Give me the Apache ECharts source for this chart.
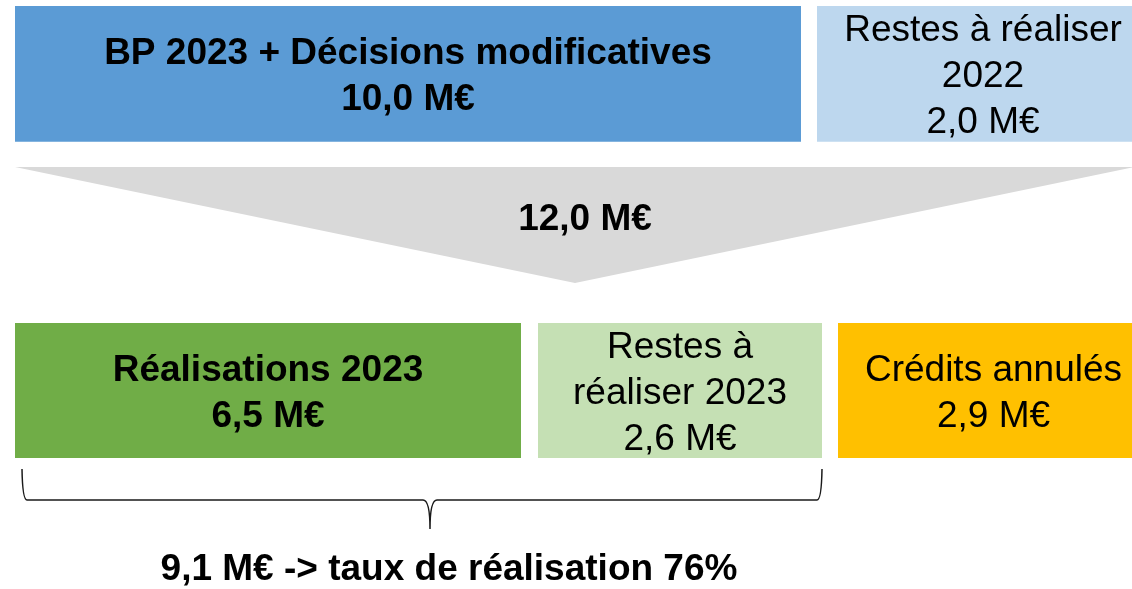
<!DOCTYPE html>
<html><head><meta charset="utf-8">
<script src="https://cdn.jsdelivr.net/npm/echarts@6/dist/echarts.min.js"></script>
<style>html,body{margin:0;padding:0;background:#fff}#c{width:1132px;height:589px}</style>
</head><body><div id="c"></div>
<script>
// ---- data ----
const topCategories = ['BP 2023 + Décisions modificatives', 'Restes à réaliser\n2022'];
const topValues = [10.0, 2.0];
const totalLabelValue = 12.0;
const bottomCategories = ['Réalisations 2023', 'Restes à\nréaliser 2023', 'Crédits annulés'];
const bottomValues = [6.5, 2.6, 2.9];
const engagedValue = 9.1;
const completionRate = 76;

// ---- layout (axis units) ----
const topBoxesX = [[15, 801], [817, 1149]];
const topRowY = [6, 141.7];
const bottomBoxesX = [[15, 521], [538, 822], [838, 1149]];
const bottomRowY = [323, 458];
const funnelPts = [[15, 167], [1135, 167], [575, 283]];
const funnelTextPos = [585, 220];
const braceGeom = { x0: 22, x1: 822, xm: 430, yTop: 469, yLine: 500, yTip: 529 };
const footTextPos = [449, 569];

// ---- styles ----
const topColors = ['#5B9BD5', '#BDD7EE'];
const bottomColors = ['#70AD47', '#C5E0B4', '#FFC000'];
const topBold = [true, false];
const bottomBold = [true, false, false];
const FONT = "'Liberation Sans', Arial, sans-serif";
const FS = 37, LH = 46, TEXT_DY = 3;

const fmt = v => v.toFixed(1).replace('.', ',') + ' M€';

const boxData = [];
topCategories.forEach((c, i) => boxData.push([topBoxesX[i][0], topBoxesX[i][1], topRowY[0], topRowY[1], 0, i]));
bottomCategories.forEach((c, i) => boxData.push([bottomBoxesX[i][0], bottomBoxesX[i][1], bottomRowY[0], bottomRowY[1], 1, i]));

function boxRender(params, api) {
  const x0 = api.value(0), x1 = api.value(1), y0 = api.value(2), y1 = api.value(3);
  const row = api.value(4), i = api.value(5);
  const p0 = api.coord([x0, y0]), p1 = api.coord([x1, y1]);
  const cats = row === 0 ? topCategories : bottomCategories;
  const vals = row === 0 ? topValues : bottomValues;
  const cols = row === 0 ? topColors : bottomColors;
  const bold = row === 0 ? topBold[i] : bottomBold[i];
  return {
    type: 'group',
    children: [
      { type: 'rect', shape: { x: p0[0], y: p0[1], width: p1[0] - p0[0], height: p1[1] - p0[1] },
        style: { fill: cols[i] } },
      { type: 'text', style: {
          text: cats[i] + '\n' + fmt(vals[i]),
          x: (p0[0] + p1[0]) / 2, y: (p0[1] + p1[1]) / 2 + TEXT_DY,
          align: 'center', verticalAlign: 'middle',
          font: (bold ? 'bold ' : '') + FS + 'px ' + FONT, lineHeight: LH, fill: '#000' } }
    ]
  };
}

function funnelRender(params, api) {
  const pts = funnelPts.map(p => api.coord(p));
  const t = api.coord(funnelTextPos);
  return {
    type: 'group',
    children: [
      { type: 'polygon', shape: { points: pts }, style: { fill: '#D9D9D9' } },
      { type: 'text', style: { text: fmt(totalLabelValue), x: t[0], y: t[1], align: 'center', verticalAlign: 'middle',
          font: 'bold ' + FS + 'px ' + FONT, fill: '#000' } }
    ]
  };
}

function braceRender(params, api) {
  const g = braceGeom;
  const c = (x, y) => api.coord([x, y]).map(v => v.toFixed(2)).join(' ');
  const d = 'M ' + c(g.x0, g.yTop) +
    ' Q ' + c(g.x0 + 0.5, g.yLine) + ' ' + c(g.x0 + 5, g.yLine) +
    ' L ' + c(g.xm - 7, g.yLine) +
    ' Q ' + c(g.xm, g.yLine) + ' ' + c(g.xm, g.yTip) +
    ' Q ' + c(g.xm, g.yLine) + ' ' + c(g.xm + 7, g.yLine) +
    ' L ' + c(g.x1 - 5, g.yLine) +
    ' Q ' + c(g.x1 - 0.5, g.yLine) + ' ' + c(g.x1, g.yTop);
  const t = api.coord(footTextPos);
  return {
    type: 'group',
    children: [
      { type: 'path', shape: { pathData: d }, style: { fill: null, stroke: '#1a1a1a', lineWidth: 1.5 } },
      { type: 'text', style: {
          text: fmt(engagedValue) + ' -> taux de réalisation ' + completionRate + '%',
          x: t[0], y: t[1] + 1, align: 'center', verticalAlign: 'middle',
          font: 'bold ' + FS + 'px ' + FONT, fill: '#000' } }
    ]
  };
}

const chart = echarts.init(document.getElementById('c'), null, { renderer: 'canvas' });
chart.setOption({
  animation: false,
  backgroundColor: '#fff',
  grid: { left: 0, right: 0, top: 0, bottom: 0 },
  xAxis: { type: 'value', min: 0, max: 1132, show: false },
  yAxis: { type: 'value', min: 0, max: 589, inverse: true, show: false },
  series: [
    { type: 'custom', renderItem: boxRender, data: boxData, clip: false, silent: true },
    { type: 'custom', renderItem: funnelRender, data: [[0, 0]], silent: true },
    { type: 'custom', renderItem: braceRender, data: [[0, 0]], silent: true }
  ]
});
</script></body></html>
